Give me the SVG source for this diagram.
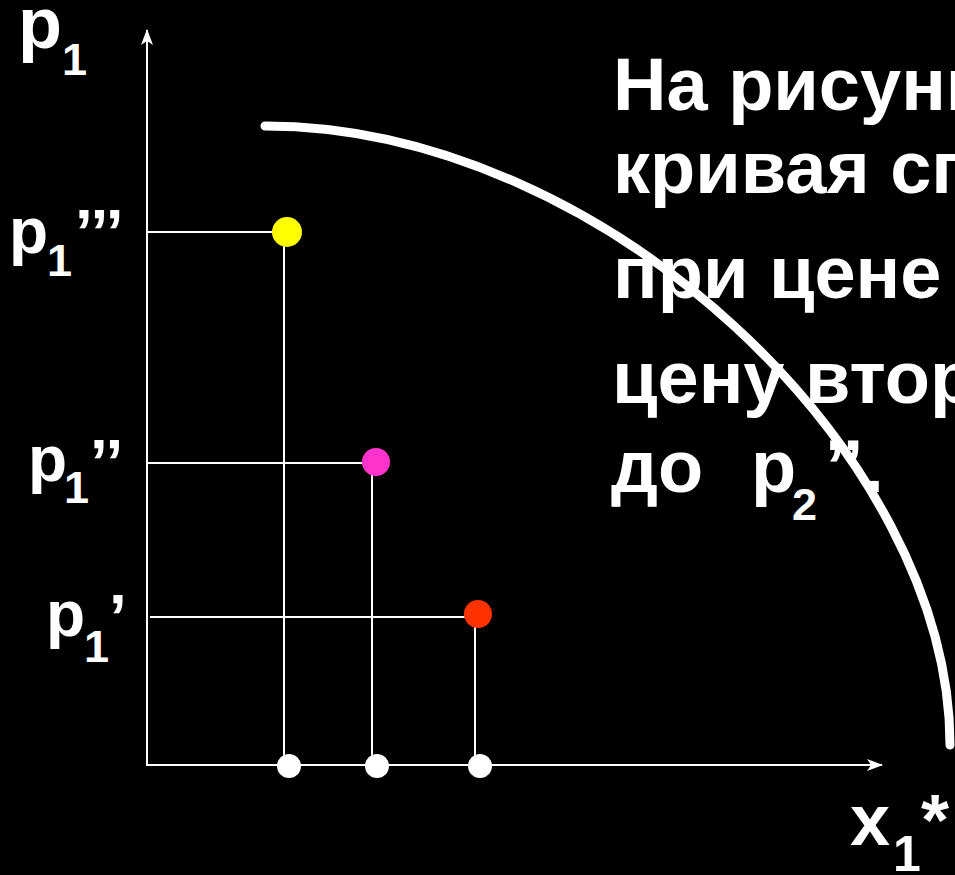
<svg xmlns="http://www.w3.org/2000/svg" width="955" height="875" viewBox="0 0 955 875">
<style>
  text { font-family: "Liberation Sans", Arial, sans-serif; font-weight: bold; fill: #ffffff; }
  .main { font-size: 74px; }
  .big { font-size: 72px; }
  .p { font-size: 64px; }
  .sub { font-size: 45px; }
  .axis { stroke: #ffffff; stroke-width: 2; fill: none; }
  .guide { stroke: #ffffff; stroke-width: 2; fill: none; }
  .curve { stroke: #ffffff; stroke-width: 9; fill: none; stroke-linecap: round; }
  .wdot { fill: #ffffff; }
</style>
<defs>
  <marker id="arr" viewBox="0 0 16 12" refX="15" refY="6" markerWidth="16" markerHeight="12" markerUnits="userSpaceOnUse" orient="auto">
    <path d="M0,0 L16,6 L0,12 L4,6 Z" fill="#ffffff"/>
  </marker>
</defs>
<rect x="0" y="0" width="955" height="875" fill="#000000"/>

<g id="connectors">
  <line class="axis" x1="147" y1="766" x2="147" y2="30" marker-end="url(#arr)"/>
  <line class="axis" x1="147" y1="765" x2="882" y2="765" marker-end="url(#arr)"/>
  <polyline class="guide" points="147,232 284,232 284,766"/>
  <polyline class="guide" points="147,463 372,463 372,766"/>
  <polyline class="guide" points="150,617 475,617 475,766"/>
  <path class="curve" d="M265,126 C605,126 950,455 950,745"/>
</g>

<g id="dot-yellow"><circle cx="287" cy="232" r="15" fill="#ffff00"/></g>
<g id="dot-magenta"><circle cx="376" cy="462" r="14" fill="#ff33cc"/></g>
<g id="dot-red"><circle cx="478" cy="614" r="14" fill="#ff3300"/></g>
<g id="dot-base-1"><circle class="wdot" cx="289" cy="766" r="12"/></g>
<g id="dot-base-2"><circle class="wdot" cx="377" cy="766" r="12"/></g>
<g id="dot-base-3"><circle class="wdot" cx="480" cy="766" r="12"/></g>

<g id="label-p1-axis">
  <text class="big" x="18" y="48">p</text>
  <text class="sub" x="62" y="75">1</text>
</g>
<g id="label-p1-3">
  <text class="p" x="9" y="253">p</text>
  <text class="sub" x="47" y="276">1</text>
  <text class="p" x="75" y="255">’’’</text>
</g>
<g id="label-p1-2">
  <text class="p" x="28" y="481">p</text>
  <text class="sub" x="64" y="503">1</text>
  <text class="p" x="90" y="485">’’</text>
</g>
<g id="label-p1-1">
  <text class="p" x="46" y="636">p</text>
  <text class="sub" x="84" y="662">1</text>
  <text class="p" x="109" y="640">’</text>
</g>
<g id="label-x1">
  <text class="big" x="850" y="845">x</text>
  <text class="sub" x="893" y="871" style="font-size:50px">1</text>
  <text class="big" x="921" y="845">*</text>
</g>

<g id="caption">
  <text class="main" x="613" y="110">На рисунк</text>
  <text class="main" x="613" y="193">кривая сп</text>
  <text class="main" x="613" y="298">при цене</text>
  <text class="main" x="612" y="403">цену втор</text>
  <text class="main" x="611" y="492">до</text>
  <text class="main" x="751" y="492">p</text>
  <text class="sub" x="792" y="520">2</text>
  <text class="main" x="825" y="492">’’.</text>
</g>
</svg>
